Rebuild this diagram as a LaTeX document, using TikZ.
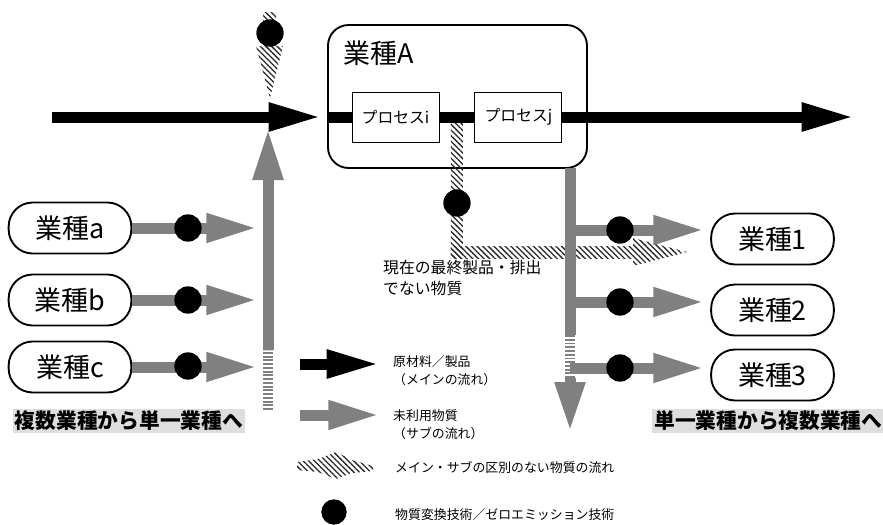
\documentclass[tikz,border=0pt]{standalone}
\usepackage{fontspec}
\setmainfont{Noto Sans CJK JP}
\usetikzlibrary{calc,positioning,arrows.meta,patterns.meta}

\begin{document}
\begin{tikzpicture}[x=0.03cm,y=-0.03cm,
    indbox/.style={draw,line width=1.6pt,rounded corners=0.72cm,minimum width=3.68cm,minimum height=1.53cm,inner sep=0pt,font=\fontsize{23}{23}\selectfont},
    procbox/.style={draw,line width=0.8pt,minimum width=2.61cm,minimum height=1.5cm,inner sep=0pt,font=\fontsize{13.5}{13.5}\selectfont},
    mainflow/.style={line width=0.33cm,-{Triangle[length=1.6cm,width=0.78cm]}},
    subflow/.style={black!50,line width=0.33cm,-{Triangle[length=1.55cm,width=0.8cm]}},
    stipple/.style={black!50,line width=0.3cm,dash pattern=on 1.6pt off 1.6pt},
    hatch/.style={pattern={Lines[angle=-45,distance=3.4pt,line width=1.1pt]},pattern color=black!85},
    blob/.style={circle,fill,inner sep=0pt,minimum size=0.82cm},
    legtext/.style={anchor=west,align=left,inner sep=0pt,font=\fontsize{11}{15.4}\selectfont},
    tagline/.style={fill=black!13,inner sep=2pt,font=\bfseries\fontsize{17.7}{17.7}\selectfont}]
    \useasboundingbox (0,0) rectangle (883,524);
    % industry A with its two processes
    \node[draw,line width=1.6pt,rounded corners=0.62cm,minimum width=7.77cm,minimum height=4.29cm] (indA) at (457.5,96.5) {};
    \node[below right=0.5cm and 0.5cm of indA.north west,inner sep=0pt,font=\fontsize{23}{23}\selectfont] (labA) {業種A};
    \node[procbox] (procI) at (395.5,117) {プロセスi};
    \node[procbox,right=1.05cm of procI] (procJ) {プロセスj};
    % hatched flows
    \coordinate (hx) at ($(procI.east)!0.5!(procJ.west)$);
    \fill[hatch] ($(hx)+(-6,5)$) rectangle ($(hx)+(6,141)$);
    \fill[hatch] ($(hx)+(-6,129)$) rectangle (633,258);
    \fill[hatch] (633,238) -- (687,252) -- (633,266) -- cycle;
    \fill[hatch] (263,12) rectangle (276,48);
    \fill[hatch] (256,46) -- (283,46) -- (270,98) -- cycle;
    % main flow
    \coordinate (inL) at (52,117);
    \coordinate (tipL) at (322,117);
    \coordinate (outR) at (855,117);
    \draw[mainflow] (inL) -- (tipL);
    \draw[line width=0.33cm] (indA.west |- procI) -- (procI.west);
    \draw[line width=0.33cm] (procI.east) -- (procJ.west);
    \draw[mainflow] (procJ.east) -- (outR);
    % industries a, b, c
    \node[indbox] (ia) at (70,228) {業種a};
    \node[indbox] (ib) at (70,300) {業種b};
    \node[indbox] (ic) at (70,367) {業種c};
    \coordinate (lv) at (258,0);
    \draw[subflow] (ia.east) -- (ia.east -| lv);
    \draw[subflow] (ib.east) -- (ib.east -| lv);
    \draw[subflow] (ic.east) -- (ic.east -| lv);
    \coordinate (upBot) at (268,410);
    \coordinate (upMid) at (268,350);
    \coordinate (upTip) at (268,128);
    \draw[stipple] (upBot) -- (upMid);
    \draw[subflow,-{Triangle[length=1.56cm,width=0.84cm]}] (upMid) -- (upTip);
    \node[blob] (da) at (188,228) {};
    \node[blob] (db) at (188,300) {};
    \node[blob] (dc) at (188,366) {};
    % industries 1, 2, 3
    \node[indbox] (i1) at (772.5,239) {業種1};
    \node[indbox] (i2) at (772.5,310) {業種2};
    \node[indbox] (i3) at (772.5,375) {業種3};
    \coordinate (rvTop) at (570,168);
    \coordinate (rvMid) at (570,335);
    \coordinate (rvLow) at (570,378);
    \coordinate (rvTip) at (570,432);
    \coordinate (r1) at (705,230);
    \coordinate (r2) at (705,302);
    \coordinate (r3) at (705,368);
    \draw[subflow,-] (rvTop) -- (rvMid);
    \draw[stipple] (rvMid) -- (rvLow);
    \draw[subflow,-{Triangle[length=1.5cm,width=0.84cm]}] (rvLow) -- (rvTip);
    \draw[subflow] (r1 -| rvTop) -- (r1);
    \draw[subflow] (r2 -| rvTop) -- (r2);
    \draw[subflow] (r3 -| rvTop) -- (r3);
    \node[blob] (d1) at (620,230) {};
    \node[blob] (d2) at (620,302) {};
    \node[blob] (d3) at (620,368) {};
    % other dots
    \node[blob] (dTop) at (270,33) {};
    \node[blob] (dMid) at ($(hx)+(0,86)$) {};
    \node[anchor=north west,align=left,inner sep=0pt,font=\fontsize{13.5}{18}\selectfont] (note) at (383,260) {現在の最終製品・排出\\でない物質};
    % labels at the bottom
    \node[tagline] (tagL) at (129,421) {複数業種から単一業種へ};
    \node[tagline,anchor=east] (tagR) at (885,421) {単一業種から複数業種へ};
    % legend
    \coordinate (lg1a) at (300,364);
    \coordinate (lg1b) at (380,364);
    \coordinate (lg2a) at (300,415);
    \coordinate (lg2b) at (380,415);
    \draw[mainflow] (lg1a) -- (lg1b);
    \draw[subflow] (lg2a) -- (lg2b);
    \fill[hatch] (297,462) -- (318,459) -- (336,452) -- (352,460) -- (373,466) -- (373,471) -- (352,473) -- (336,479) -- (318,472) -- (297,470) -- cycle;
    \node[blob,minimum size=0.76cm] (lgDot) at (334,512) {};
    \node[legtext] (lgMain) at (393,371) {原材料／製品\\（メインの流れ）};
    \node[legtext] (lgSub) at (393,424.5) {未利用物質\\（サブの流れ）};
    \node[legtext] (lgHatch) at (395,468) {メイン・サブの区別のない物質の流れ};
    \node[legtext] (lgDotT) at (395,515) {物質変換技術／ゼロエミッション技術};
\end{tikzpicture}
\end{document}
